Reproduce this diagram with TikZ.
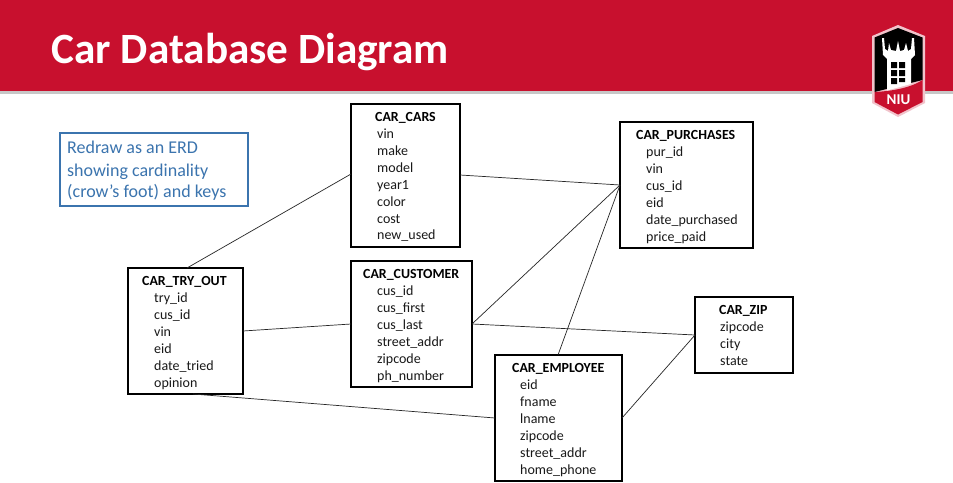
\documentclass[tikz,border=0pt]{standalone}
\usepackage{fontspec}
\setmainfont{Carlito}
\definecolor{niured}{HTML}{C8102E}
\definecolor{notecol}{HTML}{3B74AE}
\tikzset{
  x=1pt,y=-1pt,
  tbox/.style={draw=black,line width=1.7pt,inner sep=0pt,outer sep=0pt,anchor=north west},
  ttitle/.style={font=\fontsize{13.9}{15}\selectfont\bfseries,anchor=base west,inner sep=0pt},
  tattr/.style={font=\fontsize{14}{15}\selectfont,anchor=base west,inner sep=0pt,text=black!90},
  link/.style={draw=black!85,line width=0.7pt},
  noteline/.style={font=\fontsize{18}{20}\selectfont,text=notecol,anchor=base west,inner sep=0pt}
}
% name, left, top, width, height, title, title x, attr x, attrs
\newcommand{\tblbox}[9]{%
  \node[tbox,minimum width=#4pt,minimum height=#5pt] (#1) at (#2,#3) {};
  \node[ttitle] (#1-title) at (#7,#3+17.5) {#6};
  \foreach \attrname [count=\i] in {#9}{
    \node[tattr] (#1-\i) at (#8,#3+18+\i*16.85) {\attrname};
  }
}
\begin{document}
\begin{tikzpicture}
\useasboundingbox (0,0) rectangle (953,482);
\fill[white] (0,0) rectangle (953,482);
% header
\fill[black!22] (0,91) rectangle (953,93.5);
\fill[niured] (0,0) rectangle (953,91);
\node[font=\fontsize{43.2}{46}\selectfont\bfseries,text=white,anchor=base west,inner sep=0pt] (title) at (51.5,63.5) {Car Database Diagram};
% logo
\fill[white!75!niured] (898,25) -- (872,36) -- (872,103) -- (898,117) -- (925,103) -- (925,36) -- cycle;
\fill[black] (898,28) -- (874.5,37.5) -- (874.5,92) -- (922.5,80) -- (922.5,37.5) -- cycle;
\fill[niured] (874.5,92) .. controls (895,91) and (912,87) .. (922.5,80) -- (922.5,102) -- (898,114.5) -- (874.5,102) -- cycle;
\fill[white] (882,38) -- (884,38) -- (885,49) -- (888,51) -- (889,43) -- (891,50) -- (896,51) -- (898,41) -- (900,51) -- (904,50) -- (906,43) -- (908,51) -- (911,49) -- (912,38) -- (914,38) -- (915,55) -- (911,59) -- (911,84) -- (887,90.5) -- (887,59) -- (883,55) -- cycle;
\fill[black] (891,62) rectangle (897,68) (899,62) rectangle (905,68) (891,70) rectangle (897,76) (899,70) rectangle (905,76) (891,78) rectangle (897,84) (899,78) rectangle (905,82);
\node[font=\fontsize{15}{16}\selectfont\bfseries,text=white,inner sep=0pt] (logotext) at (898.5,99.5) {NIU};
% note
\node[draw=notecol,line width=1.7pt,outer sep=0pt,minimum width=188pt,minimum height=73pt,anchor=north west,inner sep=0pt] (note) at (60,133) {};
\node[noteline] (note1) at (67,153.5) {Redraw as an ERD};
\node[noteline] (note2) at (67,176) {showing cardinality};
\node[noteline] (note3) at (67,197) {(crow’s foot) and keys};
% tables
\tblbox{cars}{351}{104}{109}{143}{CAR\_CARS}{375}{377}{vin,make,model,year1,color,cost,new\_used}
\tblbox{purch}{620}{122}{133}{126}{CAR\_PURCHASES}{636}{646}{pur\_id,vin,cus\_id,eid,date\_purchased,price\_paid}
\tblbox{try}{128}{268}{115}{126}{CAR\_TRY\_OUT}{142}{154}{try\_id,cus\_id,vin,eid,date\_tried,opinion}
\tblbox{cust}{351}{261}{121}{126}{CAR\_CUSTOMER}{363}{377}{cus\_id,cus\_first,cus\_last,street\_addr,zipcode,ph\_number}
\tblbox{emp}{495}{355}{127}{126}{CAR\_EMPLOYEE}{512}{520}{eid,fname,lname,zipcode,street\_addr,home\_phone}
\tblbox{zip}{695}{297}{98}{76}{CAR\_ZIP}{719}{720}{zipcode,city,state}
% connectors
\draw[link] ([xshift=1.5pt]try.north) -- ([yshift=1.5pt]cars.west);
\draw[link] ([yshift=0.5pt]cars.east) -- (purch.west);
\draw[link] (cust.east) -- (purch.west);
\draw[link] ([xshift=-0.5pt]emp.north) -- (purch.west);
\draw[link] (try.east) -- (cust.west);
\draw[link] (cust.east) -- (zip.west);
\draw[link] ([xshift=65pt]try.south west) -- (emp.west);
\draw[link] (emp.east) -- (zip.west);
\end{tikzpicture}
\end{document}
